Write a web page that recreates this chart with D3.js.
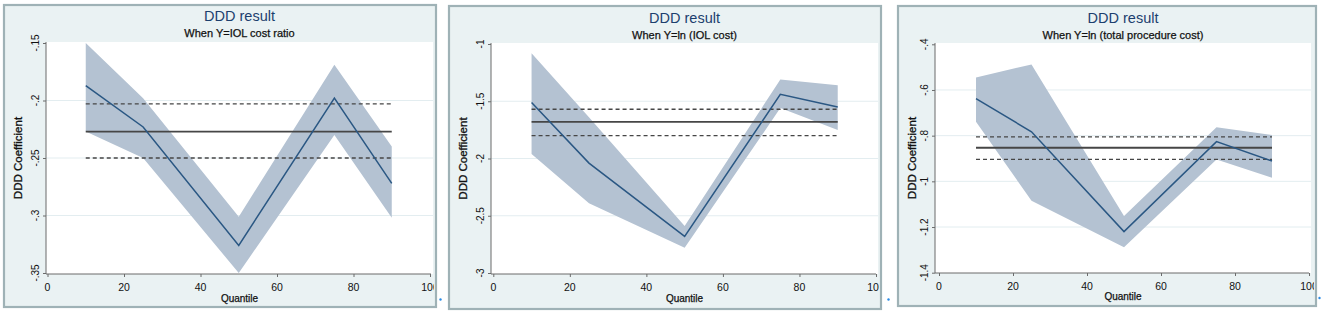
<!DOCTYPE html>
<html>
<head>
<meta charset="utf-8">
<script src="https://cdn.jsdelivr.net/npm/d3@7"></script>
<style>
  html, body { margin: 0; padding: 0; background: #ffffff; }
  svg { display: block; font-family: "Liberation Sans", Arial, sans-serif; }
</style>
</head>
<body>
<svg id="chart" width="1325" height="314"></svg>
<script>
// ---------------- data ----------------
const quantiles = [10, 25, 50, 75, 90];

const titles = ["DDD result", "DDD result", "DDD result"];
const subtitles = ["When Y=IOL cost ratio", "When Y=ln (IOL cost)", "When Y=ln (total procedure cost)"];
const yTitle = "DDD Coefficient";
const xTitle = "Quantile";

// panel 1: IOL cost ratio
const coef1  = [-0.187, -0.223, -0.326, -0.198, -0.272];
const upper1 = [-0.150, -0.198, -0.301, -0.169, -0.240];
const lower1 = [-0.227, -0.250, -0.350, -0.230, -0.302];
const ref1   = [-0.227, -0.203, -0.250]; // estimate, upper, lower (horizontal lines)
const yTicks1 = [-0.35, -0.30, -0.25, -0.20, -0.15];
const yLabels1 = ["-.35", "-.3", "-.25", "-.2", "-.15"];

// panel 2: ln (IOL cost)
const coef2  = [-1.51, -2.04, -2.68, -1.44, -1.55];
const upper2 = [-1.08, -1.64, -2.59, -1.31, -1.36];
const lower2 = [-1.96, -2.39, -2.78, -1.56, -1.75];
const ref2   = [-1.68, -1.57, -1.80];
const yTicks2 = [-3, -2.5, -2, -1.5, -1];
const yLabels2 = ["-3", "-2.5", "-2", "-1.5", "-1"];

// panel 3: ln (total procedure cost)
const coef3  = [-0.638, -0.783, -1.220, -0.826, -0.911];
const upper3 = [-0.545, -0.488, -1.152, -0.763, -0.797];
const lower3 = [-0.739, -1.085, -1.289, -0.904, -0.984];
const ref3   = [-0.853, -0.805, -0.904];
const yTicks3 = [-1.4, -1.2, -1.0, -0.8, -0.6, -0.4];
const yLabels3 = ["-1.4", "-1.2", "-1", "-.8", "-.6", "-.4"];

const xTicks = [0, 20, 40, 60, 80, 100];
const xLabels = ["0", "20", "40", "60", "80", "100"];

// ---------------- layout ----------------
const panels = [
  { frame: [4, 5, 432, 302], white: [46, 42, 433, 274], xr: [47.5, 430], yr: [273, 43],
    ylabX: 18, tickX: 35, titleY: 16, subY: 33, xlabY: 298, xtickY: 287,
    coef: coef1, upper: upper1, lower: lower1, ref: ref1, yt: yTicks1, yl: yLabels1 },
  { frame: [449, 6, 432, 303], white: [491, 43, 878, 274], xr: [493.3, 876], yr: [273, 44],
    ylabX: 463, tickX: 480, titleY: 18, subY: 35, xlabY: 298, xtickY: 287,
    coef: coef2, upper: upper2, lower: lower2, ref: ref2, yt: yTicks2, yl: yLabels2 },
  { frame: [898, 6, 418, 300], white: [935, 43, 1311, 273], xr: [939, 1309], yr: [272.7, 44.3],
    ylabX: 912, tickX: 924, titleY: 18, subY: 35, xlabY: 296, xtickY: 286,
    coef: coef3, upper: upper3, lower: lower3, ref: ref3, yt: yTicks3, yl: yLabels3 }
];

const svg = d3.select("#chart");
const defs = svg.append("defs");

panels.forEach((p, i) => {
  const [fx, fy, fw, fh] = p.frame;
  defs.append("clipPath").attr("id", "clip" + i)
    .append("rect").attr("x", fx + 1).attr("y", fy + 1).attr("width", fw - 3).attr("height", fh - 2);

  // graph region
  svg.append("rect").attr("x", fx).attr("y", fy).attr("width", fw).attr("height", fh)
    .attr("fill", "#eaf2f3").attr("stroke", "#9fb2b6").attr("stroke-width", 2.2);

  const g = svg.append("g").attr("clip-path", "url(#clip" + i + ")");

  const [wx0, wy0, wx1, wy1] = p.white;
  g.append("rect").attr("x", wx0).attr("y", wy0).attr("width", wx1 - wx0).attr("height", wy1 - wy0)
    .attr("fill", "#ffffff");

  const x = d3.scaleLinear().domain([0, 100]).range(p.xr);
  const y = d3.scaleLinear().domain([p.yt[0], p.yt[p.yt.length - 1]]).range(p.yr);

  // gridlines (interior ticks)
  g.selectAll(".grid").data(p.yt.slice(1, -1)).enter().append("line")
    .attr("x1", wx0).attr("x2", wx1)
    .attr("y1", d => y(d)).attr("y2", d => y(d))
    .attr("stroke", "#e3edf0").attr("stroke-width", 1);

  // confidence band
  const rows = quantiles.map((q, k) => ({ q, c: p.coef[k], u: p.upper[k], l: p.lower[k] }));
  g.append("path").datum(rows)
    .attr("d", d3.area().x(d => x(d.q)).y0(d => y(d.l)).y1(d => y(d.u)))
    .attr("fill", "#b4c2d2");

  // horizontal reference lines
  const xs = [quantiles[0], quantiles[quantiles.length - 1]];
  p.ref.forEach((v, k) => {
    g.append("line")
      .attr("x1", x(xs[0])).attr("x2", x(xs[1]))
      .attr("y1", y(v)).attr("y2", y(v))
      .attr("stroke", "#464646").attr("stroke-width", k === 0 ? 1.8 : 1.3)
      .attr("stroke-dasharray", k === 0 ? null : "4,3");
  });

  // coefficient line
  g.append("path").datum(rows)
    .attr("d", d3.line().x(d => x(d.q)).y(d => y(d.c)))
    .attr("fill", "none").attr("stroke", "#2a5783").attr("stroke-width", 1.5);

  // y axis
  const yAxis = g.append("g").attr("transform", `translate(${wx0},0)`)
    .call(d3.axisLeft(y).tickValues(p.yt).tickSize(3).tickFormat(""));
  yAxis.select(".domain").attr("stroke", "#6b6b6b").attr("d", `M0,${wy0}V${wy1}`);
  yAxis.selectAll(".tick line").attr("stroke", "#6b6b6b");

  g.selectAll(".ytl").data(p.yt).enter().append("text")
    .attr("transform", (d) => `translate(${p.tickX},${y(d)}) rotate(-90)`)
    .attr("text-anchor", "middle").attr("dy", "0.35em")
    .attr("font-size", 10).attr("fill", "#111")
    .text((d, k) => p.yl[k]);

  // x axis
  const xAxis = g.append("g").attr("transform", `translate(0,${wy1})`)
    .call(d3.axisBottom(x).tickValues(xTicks).tickSize(3).tickFormat(""));
  xAxis.select(".domain").attr("stroke", "#6b6b6b").attr("d", `M${wx0},0H${wx1 - 2}`);
  xAxis.selectAll(".tick line").attr("stroke", "#6b6b6b");

  g.selectAll(".xtl").data(xTicks).enter().append("text")
    .attr("x", d => x(d)).attr("y", p.xtickY).attr("dy", "0.35em")
    .attr("text-anchor", "middle").attr("font-size", 10.5).attr("fill", "#111")
    .text((d, k) => xLabels[k]);

  // titles
  const cx = (wx0 + wx1) / 2;
  g.append("text").attr("x", cx).attr("y", p.titleY).attr("dy", "0.35em")
    .attr("text-anchor", "middle").attr("font-size", 14.5).attr("fill", "#1c3f6e")
    .text(titles[i]);
  g.append("text").attr("x", cx).attr("y", p.subY).attr("dy", "0.35em")
    .attr("text-anchor", "middle").attr("font-size", 11).attr("fill", "#111")
    .attr("stroke", "#111").attr("stroke-width", 0.25)
    .text(subtitles[i]);

  g.append("text").attr("x", cx).attr("y", p.xlabY).attr("dy", "0.35em")
    .attr("text-anchor", "middle").attr("font-size", 10).attr("fill", "#111")
    .attr("stroke", "#111").attr("stroke-width", 0.25)
    .text(xTitle);
  g.append("text")
    .attr("transform", `translate(${p.ylabX},${(wy0 + wy1) / 2}) rotate(-90)`)
    .attr("text-anchor", "middle").attr("dy", "0.35em")
    .attr("font-size", 11.5).attr("fill", "#111")
    .attr("stroke", "#111").attr("stroke-width", 0.3)
    .text(yTitle);
});

// small blue marks between panels (artifacts in the source image)
const marks = [[440.5, 299.5], [888.5, 299.5], [1319.5, 298]];
svg.selectAll(".mark").data(marks).enter().append("circle")
  .attr("cx", d => d[0]).attr("cy", d => d[1]).attr("r", 1.2).attr("fill", "#2b8be6");
</script>
</body>
</html>
